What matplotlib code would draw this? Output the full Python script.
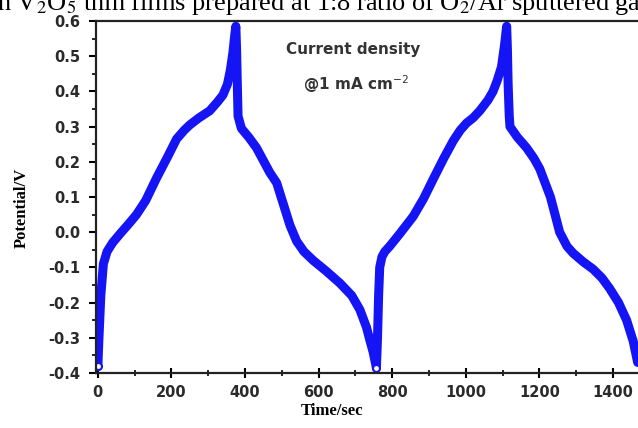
import matplotlib.pyplot as plt
from matplotlib.ticker import MultipleLocator

# galvanostatic charge/discharge
time_s = [0, 3, 8, 15, 25, 40, 60, 85, 105, 130, 160, 190, 214, 235, 250, 275, 304, 325,
          340, 352, 360, 367, 372, 375,
          377, 379, 381, 390, 410, 431, 449, 467, 486, 504, 522, 540, 560, 585, 620, 658,
          690, 712, 730, 740, 748, 754, 757,
          760, 763, 766, 772, 780, 793, 820, 857, 885, 911, 940, 966, 985, 1002, 1020,
          1038, 1060, 1074, 1085, 1097, 1105, 1111,
          1113, 1115, 1118, 1120, 1140, 1165, 1185, 1201, 1230, 1255, 1275, 1292, 1320,
          1346, 1370, 1391, 1415, 1437, 1455, 1467]
potential = [-0.38, -0.30, -0.18, -0.09, -0.055, -0.03, -0.005, 0.025, 0.05, 0.09, 0.155,
             0.215, 0.265, 0.29, 0.305, 0.325, 0.345, 0.37, 0.39, 0.42, 0.46, 0.51, 0.56, 0.585,
             0.52, 0.42, 0.33, 0.295, 0.27, 0.24, 0.205, 0.17, 0.14, 0.08, 0.02, -0.025,
             -0.055, -0.08, -0.11, -0.145, -0.18, -0.22, -0.27, -0.31, -0.34, -0.37, -0.385,
             -0.30, -0.18, -0.10, -0.07, -0.055, -0.04, -0.005, 0.045, 0.095, 0.15, 0.21,
             0.26, 0.29, 0.31, 0.325, 0.345, 0.375, 0.40, 0.43, 0.47, 0.53, 0.585,
             0.52, 0.42, 0.33, 0.30, 0.27, 0.24, 0.21, 0.18, 0.10, 0.0, -0.04, -0.06,
             -0.085, -0.105, -0.13, -0.16, -0.2, -0.25, -0.31, -0.37]

x_ticks = [0, 200, 400, 600, 800, 1000, 1200, 1400]
y_ticks = [-0.4, -0.3, -0.2, -0.1, 0.0, 0.1, 0.2, 0.3, 0.4, 0.5, 0.6]

fig = plt.figure(figsize=(6.38, 4.28), dpi=100)
ax = fig.add_axes([0.1505, 0.1285, 0.868, 0.8224])

blue = '#1414f5'
ax.plot(time_s, potential, color=blue, lw=6.5, solid_joinstyle='round', solid_capstyle='round')
# open circles visible at the minima
ends = [0, potential.index(min(potential))]
ax.plot([time_s[i] for i in ends], [potential[i] for i in ends], 'o', ms=5,
        mfc='white', mec=blue, mew=1.5)

ax.set_xlim(-5, 1500)
ax.set_ylim(-0.4, 0.6)
ax.set_xticks(x_ticks)
ax.set_yticks(y_ticks)
ax.set_yticklabels([f"{v:.1f}" for v in y_ticks])
ax.xaxis.set_minor_locator(MultipleLocator(100))
ax.yaxis.set_minor_locator(MultipleLocator(0.05))

for lbl in ax.get_xticklabels() + ax.get_yticklabels():
    lbl.set_fontfamily('DejaVu Sans')
    lbl.set_fontweight('bold')
    lbl.set_fontsize(10.5)
    lbl.set_color('#2a2a2a')

ax.tick_params(axis='x', which='major', direction='inout', length=7, width=1.5, pad=5)
ax.tick_params(axis='x', which='minor', direction='inout', length=4, width=1.2)
ax.tick_params(axis='y', which='major', direction='out', length=5, width=1.5, pad=6)
ax.tick_params(axis='y', which='minor', direction='out', length=3, width=1.2)
for side in ['left', 'bottom', 'top']:
    ax.spines[side].set_linewidth(1.6)
    ax.spines[side].set_color('#222222')
ax.spines['right'].set_visible(False)

ax.set_xlabel('Time/sec', family='Liberation Serif', fontweight='bold', fontsize=12)
ax.set_ylabel('Potential/V', family='Liberation Serif', fontweight='bold', fontsize=12)
ax.xaxis.set_label_coords(0.426, -0.086)
ax.yaxis.set_label_coords(-0.119, 0.47)

ax.text(694, 0.518, 'Current density', family='DejaVu Sans', fontweight='bold', fontsize=11,
        color='#333333', ha='center', va='center')
ax.text(702, 0.421, '@1 mA cm$^{-2}$', family='DejaVu Sans', fontweight='bold', fontsize=11,
        color='#333333', ha='center', va='center')

# caption line cut off by the crop at the top
fig.text(-0.005, 1 - 10 / 428, 'n V$_2$O$_5$ thin films prepared at 1:8 ratio of O$_2$/Ar sputtered gas',
         family='Liberation Serif', fontsize=19, ha='left', va='baseline', color='black',
         math_fontfamily='stix')

fig.savefig('out.png', dpi=100)
